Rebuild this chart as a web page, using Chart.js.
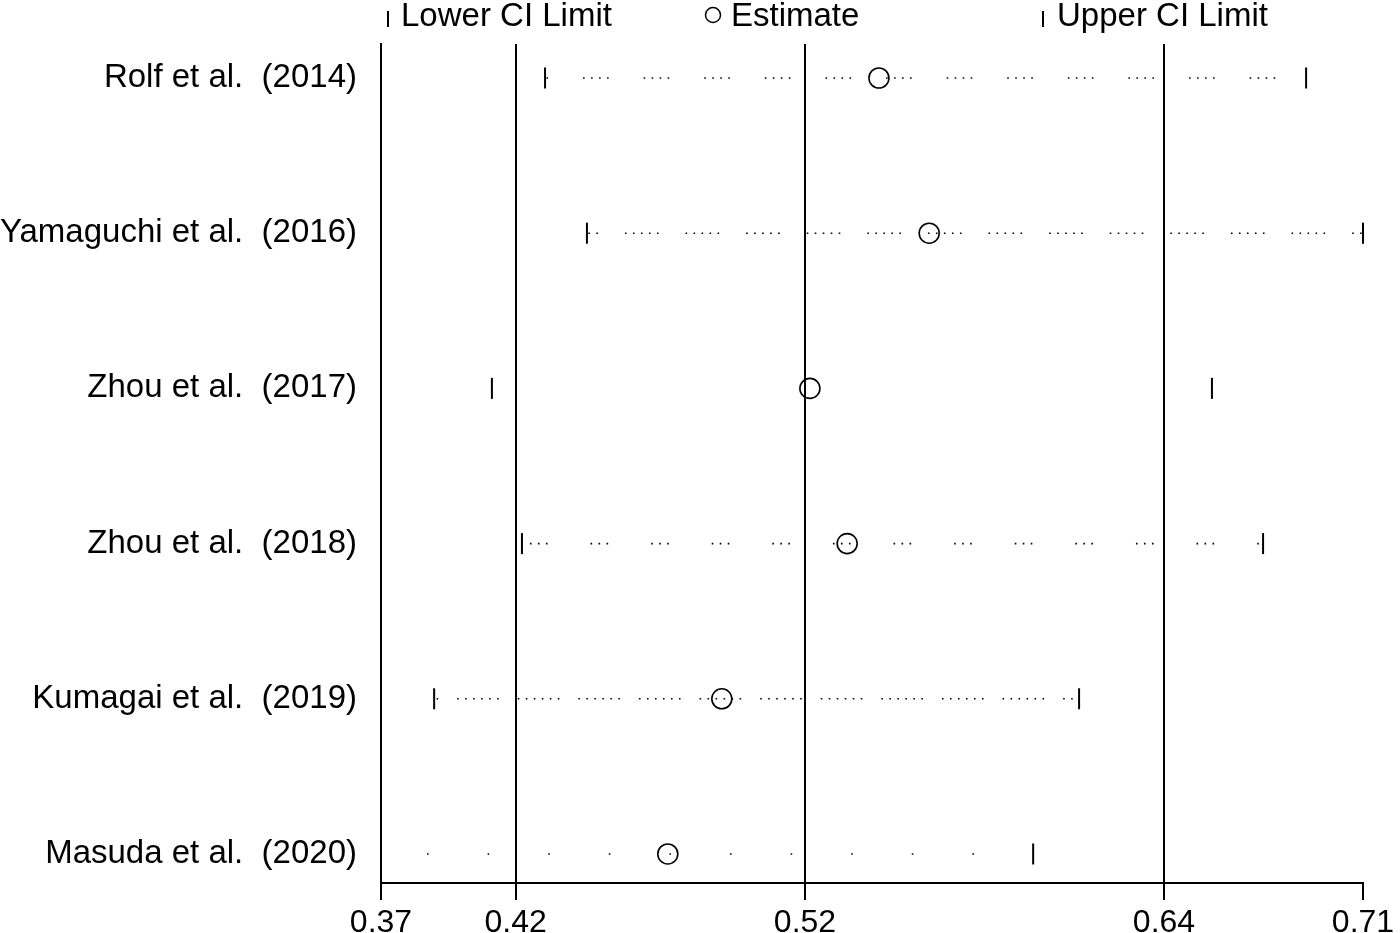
<!DOCTYPE html>
<html>
<head>
<meta charset="utf-8">
<script src="https://cdn.jsdelivr.net/npm/chart.js@4.4.1/dist/chart.umd.min.js"></script>
<style>
  html, body { margin: 0; padding: 0; background: #fff; }
  canvas { display: block; }
</style>
</head>
<body>
<canvas id="chart" width="1400" height="933"></canvas>
<script>
// Sensitivity analysis: each row = estimate with one study omitted
const studies = ['Rolf et al.', 'Yamaguchi et al.', 'Zhou et al.', 'Zhou et al.', 'Kumagai et al.', 'Masuda et al.'];
const years = ['2014', '2016', '2017', '2018', '2019', '2020'];
const lowerCI = [0.4268, 0.4413, 0.4084, 0.4188, 0.3884, 0.3700];
const estimate = [0.5424, 0.5598, 0.5185, 0.5314, 0.4880, 0.4693];
const upperCI = [0.6903, 0.7100, 0.6577, 0.6754, 0.6117, 0.5958];

// x axis: overall lower / estimate / upper in the middle
const tickValues = [0.37, 0.4166, 0.5168, 0.6411, 0.71];
const tickLabels = ['0.37', '0.42', '0.52', '0.64', '0.71'];

const legendLabels = ['Lower CI Limit', 'Estimate', 'Upper CI Limit'];

// dotted line look (styles only)
const rowDots = [4, 5, 0, 3, 6, 1];
const rowDotStart = [38, 38, 0, 8, 23, 46];
const PERIOD = 60.6, STEP = 8, DOT = 1.6;

const FONT = '"Liberation Sans", Arial, sans-serif';

function dotPattern(n) {
  const pat = [];
  for (let i = 0; i < n - 1; i++) pat.push(DOT, STEP - DOT);
  pat.push(DOT, PERIOD - (n - 1) * STEP - DOT);
  return pat;
}

const datasets = [];
studies.forEach((s, i) => {
  datasets.push({
    type: 'line',
    data: [{ x: lowerCI[i], y: i }, { x: upperCI[i], y: i }],
    showLine: rowDots[i] > 0,
    borderColor: '#000',
    borderWidth: 1.6,
    borderDash: rowDots[i] > 0 ? dotPattern(rowDots[i]) : [],
    borderDashOffset: PERIOD - rowDotStart[i],
    pointRadius: 0,
    clip: false
  });
});
datasets.push({
  label: 'lower',
  data: lowerCI.map((v, i) => ({ x: v, y: i })),
  pointStyle: 'line',
  rotation: 90,
  pointRadius: 10.5,
  pointBorderWidth: 2,
  borderColor: '#000',
  backgroundColor: '#000',
  showLine: false,
  clip: false
});
datasets.push({
  label: 'estimate',
  data: estimate.map((v, i) => ({ x: v, y: i })),
  pointStyle: 'circle',
  pointRadius: 10,
  pointBorderWidth: 1.6,
  borderColor: '#000',
  backgroundColor: 'rgba(0,0,0,0)',
  showLine: false,
  clip: false
});
datasets.push({
  label: 'upper',
  data: upperCI.map((v, i) => ({ x: v, y: i })),
  pointStyle: 'line',
  rotation: 90,
  pointRadius: 10.5,
  pointBorderWidth: 2,
  borderColor: '#000',
  backgroundColor: '#000',
  showLine: false,
  clip: false
});

// legend drawn across the top like the Stata output
const topLegend = {
  id: 'topLegend',
  afterDraw(chart) {
    const ctx = chart.ctx;
    ctx.save();
    ctx.fillStyle = '#000';
    ctx.strokeStyle = '#000';
    ctx.font = '33px ' + FONT;
    ctx.textBaseline = 'alphabetic';
    // lower
    ctx.lineWidth = 2;
    ctx.beginPath(); ctx.moveTo(388, 11); ctx.lineTo(388, 27); ctx.stroke();
    ctx.fillText(legendLabels[0], 401, 26);
    // estimate
    ctx.lineWidth = 1.5;
    ctx.beginPath(); ctx.arc(713, 15, 7.5, 0, Math.PI * 2); ctx.stroke();
    ctx.fillText(legendLabels[1], 731, 26);
    // upper
    ctx.lineWidth = 2;
    ctx.beginPath(); ctx.moveTo(1043, 11); ctx.lineTo(1043, 27); ctx.stroke();
    ctx.fillText(legendLabels[2], 1057, 26);
    ctx.restore();
  }
};

new Chart(document.getElementById('chart'), {
  type: 'scatter',
  data: { datasets },
  plugins: [topLegend],
  options: {
    responsive: false,
    animation: false,
    devicePixelRatio: 1,
    layout: { padding: { top: 44, right: 37, left: 0, bottom: 0 } },
    plugins: { legend: { display: false }, tooltip: { enabled: false } },
    scales: {
      x: {
        type: 'linear',
        min: 0.37,
        max: 0.71,
        afterBuildTicks: scale => { scale.ticks = tickValues.map(v => ({ value: v })); },
        afterFit: scale => { scale.height = 50; },
        ticks: {
          autoSkip: false,
          maxRotation: 0,
          padding: 4,
          color: '#000',
          font: { family: FONT, size: 32 },
          callback: (v, i) => tickLabels[i]
        },
        grid: {
          color: c => (c.index === 0 || c.index === tickValues.length - 1) ? 'rgba(0,0,0,0)' : '#000',
          tickColor: '#000',
          lineWidth: 2,
          tickLength: 17
        },
        border: { display: true, color: '#000', width: 2 }
      },
      y: {
        type: 'linear',
        reverse: true,
        min: -0.219,
        max: 5.187,
        afterBuildTicks: scale => { scale.ticks = studies.map((s, i) => ({ value: i })); },
        afterFit: scale => { scale.width = 381; },
        ticks: {
          autoSkip: false,
          padding: 24,
          color: '#000',
          font: { family: FONT, size: 33 },
          callback: (v, i) => studies[i] + '  (' + years[i] + ')'
        },
        grid: { drawOnChartArea: false, drawTicks: false, color: 'rgba(0,0,0,0)' },
        border: { display: true, color: '#000', width: 2 }
      }
    }
  }
});
</script>
</body>
</html>
